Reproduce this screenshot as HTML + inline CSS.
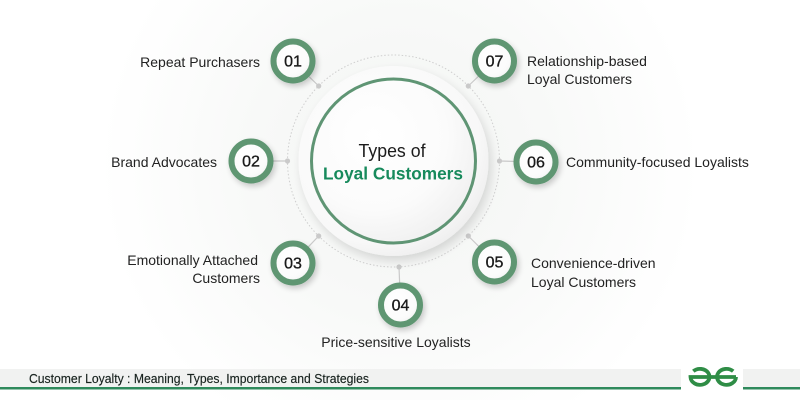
<!DOCTYPE html>
<html>
<head>
<meta charset="utf-8">
<style>
  html,body{margin:0;padding:0;background:#fff;}
  body{width:800px;height:400px;overflow:hidden;}
  svg{display:block;}
  text{font-family:"Liberation Sans", Arial, sans-serif;}
</style>
</head>
<body>
<svg width="800" height="400" viewBox="0 0 800 400" xmlns="http://www.w3.org/2000/svg">
  <defs>
    <radialGradient id="bgShade" cx="400" cy="165" r="300" gradientUnits="userSpaceOnUse">
      <stop offset="0" stop-color="#f3f5f3"/>
      <stop offset="0.5" stop-color="#f8f9f8"/>
      <stop offset="1" stop-color="#ffffff"/>
    </radialGradient>
    <radialGradient id="innerFill" cx="0.38" cy="0.35" r="0.75">
      <stop offset="0" stop-color="#ffffff"/>
      <stop offset="0.6" stop-color="#fbfbfb"/>
      <stop offset="1" stop-color="#eeeeee"/>
    </radialGradient>
    <radialGradient id="haloFill" cx="0.4" cy="0.38" r="0.7">
      <stop offset="0" stop-color="#ffffff"/>
      <stop offset="0.78" stop-color="#f8f8f8"/>
      <stop offset="1" stop-color="#ebebeb"/>
    </radialGradient>
    <radialGradient id="nodeFill" cx="0.4" cy="0.38" r="0.7">
      <stop offset="0" stop-color="#ffffff"/>
      <stop offset="0.7" stop-color="#fbfbfb"/>
      <stop offset="1" stop-color="#ececec"/>
    </radialGradient>
    <filter id="shadow" x="-50%" y="-50%" width="200%" height="200%">
      <feGaussianBlur in="SourceAlpha" stdDeviation="3"/>
      <feOffset dx="2" dy="3" result="b"/>
      <feComponentTransfer><feFuncA type="linear" slope="0.2"/></feComponentTransfer>
      <feMerge><feMergeNode/><feMergeNode in="SourceGraphic"/></feMerge>
    </filter>
    <filter id="bigShadow" x="-30%" y="-30%" width="160%" height="160%">
      <feGaussianBlur in="SourceAlpha" stdDeviation="5"/>
      <feOffset dx="3" dy="5" result="b"/>
      <feComponentTransfer><feFuncA type="linear" slope="0.14"/></feComponentTransfer>
      <feMerge><feMergeNode/><feMergeNode in="SourceGraphic"/></feMerge>
    </filter>
  </defs>

  <!-- background -->
  <rect x="0" y="0" width="800" height="400" fill="url(#bgShade)"/>

  <!-- outer dotted ring -->
  <circle cx="393.5" cy="161" r="106" fill="none" stroke="#cfcfcf" stroke-width="1" stroke-dasharray="1.5 2"/>

  <!-- connectors -->
  <g stroke="#c9c9c9" stroke-width="1.2">
    <line x1="293" y1="61" x2="318.7" y2="86"/>
    <line x1="251" y1="161" x2="287.5" y2="161"/>
    <line x1="293" y1="263" x2="318.7" y2="236"/>
    <line x1="400.5" y1="305" x2="399" y2="267"/>
    <line x1="494.5" y1="262" x2="468.3" y2="236"/>
    <line x1="536" y1="162" x2="499.5" y2="161"/>
    <line x1="494.5" y1="61" x2="468.3" y2="86"/>
  </g>
  <g fill="#cacaca">
    <circle cx="318.7" cy="86" r="2.6"/>
    <circle cx="287.5" cy="161" r="2.6"/>
    <circle cx="318.7" cy="236" r="2.6"/>
    <circle cx="399" cy="267" r="2.6"/>
    <circle cx="468.3" cy="236" r="2.6"/>
    <circle cx="499.5" cy="161" r="2.6"/>
    <circle cx="468.3" cy="86" r="2.6"/>
  </g>

  <!-- central circle -->
  <circle cx="393.5" cy="161" r="95" fill="url(#haloFill)" filter="url(#bigShadow)"/>
  <circle cx="393.5" cy="161" r="82" fill="url(#innerFill)" stroke="#5f9574" stroke-width="3"/>
  <text x="392" y="157" font-size="18" fill="#1c1c1c" text-anchor="middle" textLength="67" lengthAdjust="spacingAndGlyphs">Types of</text>
  <text x="393" y="179.5" font-size="17.5" font-weight="bold" fill="#178a5c" text-anchor="middle" textLength="140" lengthAdjust="spacingAndGlyphs">Loyal Customers</text>

  <!-- nodes -->
  <g filter="url(#shadow)">
    <circle cx="293" cy="61" r="19.5" fill="url(#nodeFill)" stroke="#5e9672" stroke-width="6"/>
    <circle cx="251" cy="161" r="19.5" fill="url(#nodeFill)" stroke="#5e9672" stroke-width="6"/>
    <circle cx="293" cy="263" r="19.5" fill="url(#nodeFill)" stroke="#5e9672" stroke-width="6"/>
    <circle cx="400.5" cy="305" r="19.5" fill="url(#nodeFill)" stroke="#5e9672" stroke-width="6"/>
    <circle cx="494.5" cy="262" r="19.5" fill="url(#nodeFill)" stroke="#5e9672" stroke-width="6"/>
    <circle cx="536" cy="162" r="19.5" fill="url(#nodeFill)" stroke="#5e9672" stroke-width="6"/>
    <circle cx="494.5" cy="61" r="19.5" fill="url(#nodeFill)" stroke="#5e9672" stroke-width="6"/>
  </g>
  <g font-size="16" fill="#1a1a1a" stroke="#1a1a1a" stroke-width="0.35" text-anchor="middle">
    <text x="293" y="66.5">01</text>
    <text x="251" y="166.5">02</text>
    <text x="293" y="268.5">03</text>
    <text x="400.5" y="310.5">04</text>
    <text x="494.5" y="267.5">05</text>
    <text x="536" y="167.5">06</text>
    <text x="494.5" y="66.5">07</text>
  </g>

  <!-- labels -->
  <g font-size="14" fill="#222222">
    <text x="260" y="67" text-anchor="end">Repeat Purchasers</text>
    <text x="217" y="167" text-anchor="end">Brand Advocates</text>
    <text x="258" y="265" text-anchor="end">Emotionally Attached</text>
    <text x="260" y="283" text-anchor="end">Customers</text>
    <text x="396" y="347" text-anchor="middle">Price-sensitive Loyalists</text>
    <text x="531" y="268">Convenience-driven</text>
    <text x="531" y="287">Loyal Customers</text>
    <text x="566" y="167">Community-focused Loyalists</text>
    <text x="527" y="66">Relationship-based</text>
    <text x="527" y="84">Loyal Customers</text>
  </g>

  <!-- footer -->
  <rect x="0" y="369" width="681" height="18" fill="#f1f2f1"/>
  <rect x="743" y="369" width="57" height="18" fill="#f1f2f1"/>
  <rect x="681" y="365" width="62" height="30" fill="#ffffff"/>
  <rect x="0" y="387" width="681" height="2.5" fill="#2f8a5c"/>
  <rect x="743" y="387" width="57" height="2.5" fill="#2f8a5c"/>
  <text x="29" y="383" font-size="12.5" fill="#18231f" stroke="#18231f" stroke-width="0.15" textLength="340" lengthAdjust="spacingAndGlyphs">Customer Loyalty : Meaning, Types, Importance and Strategies</text>

  <!-- logo -->
  <g fill="none" stroke="#2f8d46" stroke-width="3.8" stroke-linecap="butt">
    <path d="M693.3 371.2 A9.5 8 0 1 1 690.5 377 L736 377"/>
    <path d="M733.2 371.2 A9.5 8 0 1 0 736 377"/>
  </g>
</svg>
</body>
</html>
